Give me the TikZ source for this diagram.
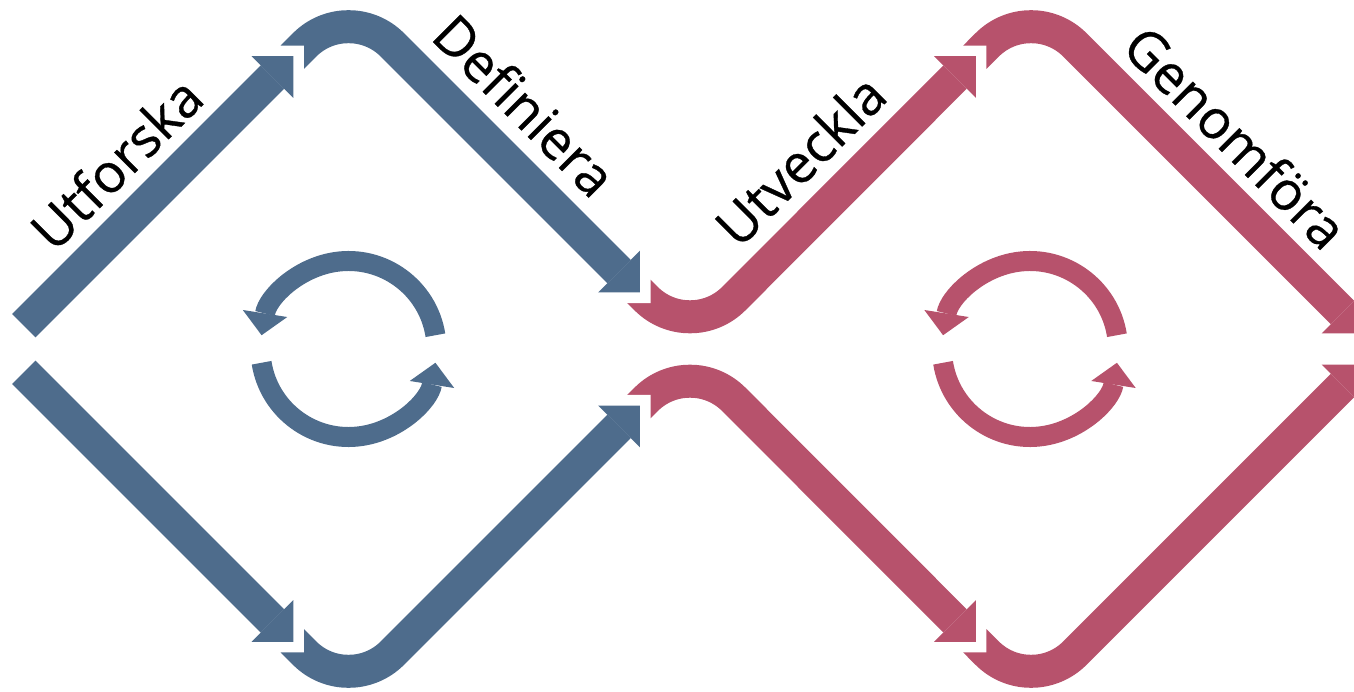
\documentclass[tikz,border=0pt]{standalone}
\usepackage{fontspec}
\setmainfont{Open Sans}
\newfontfamily\phasefont{Open Sans}[FakeBold=0.6]
\usepackage{tikz}
\usetikzlibrary{arrows.meta,calc}

\definecolor{bandblue}{RGB}{78,108,140}
\definecolor{bandpink}{RGB}{183,82,108}

\begin{document}
\begin{tikzpicture}[x=1pt,y=-1pt,
  bandline/.style={line width=33pt,-{Triangle[width=59pt,length=29.5pt,line width=0pt]}},
  roundarrow/.style={line width=20pt,-{Triangle[width=45pt,length=22pt,line width=0pt]}},
  phase/.style={font=\phasefont\fontsize{54}{64}\selectfont,inner sep=0pt},
  notch/.pic={\fill[white] (0,0) -- (-17.5,17.5) -- (-17.5,-17.5) -- cycle;}]
\useasboundingbox (0,0) rectangle (1354,692);

% corners of the two diamonds
\coordinate (BT) at (348.5,1);
\coordinate (BB) at (348.5,697);
\coordinate (BL) at (0.5,349);
\coordinate (BR) at (696.5,349);
\coordinate (BC) at (348.5,349);
\coordinate (PT) at (1031,1);
\coordinate (PB) at (1031,697);
\coordinate (PR) at (1379,349);
\coordinate (PU) at (690,342.5);
\coordinate (PD) at (690,355.5);
\coordinate (PC) at (1030,349);

% pink diamond, right half
\draw[bandline,bandpink] ($(PT)!79.5pt!(PU)$) [rounded corners=62pt] -- (PT) -- ($(PR)!22pt!(PT)$);
\pic[rotate=45] at ($(PT)!63pt!(PU)$) {notch};
\draw[bandline,bandpink] ($(PB)!79.5pt!(PD)$) [rounded corners=62pt] -- (PB) -- ($(PR)!22pt!(PB)$);
\pic[rotate=-45] at ($(PB)!63pt!(PD)$) {notch};

% pink diamond, left half
\draw[bandline,bandpink] ($(BR)!81.5pt!(BT)$) [rounded corners=62pt] -- (PU) -- ($(PT)!78pt!(PU)$);
\pic[rotate=-45] at ($(BR)!65pt!(BT)$) {notch};
\draw[bandline,bandpink] ($(BR)!81.5pt!(BB)$) [rounded corners=62pt] -- (PD) -- ($(PB)!78pt!(PD)$);
\pic[rotate=45] at ($(BR)!65pt!(BB)$) {notch};

% blue diamond
\draw[bandline,bandblue] ($(BT)!79.5pt!(BL)$) [rounded corners=62pt] -- (BT) -- ($(BR)!80pt!(BT)$);
\pic[rotate=45] at ($(BT)!63pt!(BL)$) {notch};
\draw[bandline,bandblue] ($(BB)!79.5pt!(BL)$) [rounded corners=62pt] -- (BB) -- ($(BR)!80pt!(BB)$);
\pic[rotate=-45] at ($(BB)!63pt!(BL)$) {notch};
\draw[bandline,bandblue] ($(BL)!33pt!(BT)$) -- ($(BT)!78pt!(BL)$);
\draw[bandline,bandblue] ($(BL)!33pt!(BB)$) -- ($(BB)!78pt!(BL)$);

% cycle arrows
\draw[roundarrow,bandblue] ($(BC)+(-9:88)$) arc[start angle=-9,end angle=-171,radius=88];
\draw[roundarrow,bandblue] ($(BC)+(171:88)$) arc[start angle=171,end angle=9,radius=88];
\draw[roundarrow,bandpink] ($(PC)+(-9:88)$) arc[start angle=-9,end angle=-171,radius=88];
\draw[roundarrow,bandpink] ($(PC)+(171:88)$) arc[start angle=171,end angle=9,radius=88];

% phase names
\node[phase,rotate=45] (explore) at (116,163) {Utforska};
\node[phase,rotate=-45] (define) at (525,105) {Definiera};
\node[phase,rotate=45] (develop) at (800,160) {Utveckla};
\node[phase,rotate=-45] (deliver) at (1236,137) {Genomföra};
\end{tikzpicture}
\end{document}
